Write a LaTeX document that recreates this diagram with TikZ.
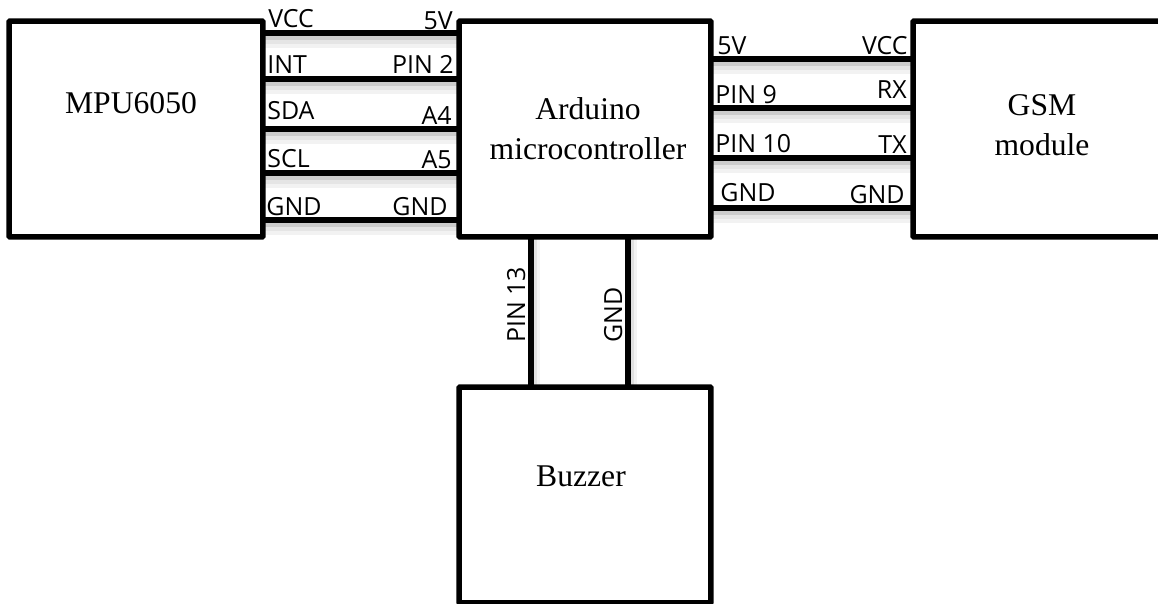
\documentclass[tikz,border=0pt]{standalone}
\usepackage{fontspec}
\setmainfont{Liberation Serif}
\setsansfont{Open Sans}
\usetikzlibrary{positioning}

\begin{document}
\begin{tikzpicture}[
    x=0.02cm, y=-0.02cm,
    block/.style={draw=black, line width=0.11cm, rounded corners=0.5pt, minimum width=5.04cm,
        minimum height=4.32cm, inner sep=0pt, outer sep=0pt},
    blocktext/.style={align=center, inner sep=0pt, font=\fontsize{18}{22.9}\selectfont},
    wire/.style={line width=0.11cm},
    wireshade/.style={
        preaction={draw=black!5, line width=0.24cm, transform canvas={yshift=-0.175cm}},
        preaction={draw=black!10, line width=0.16cm, transform canvas={yshift=-0.135cm}},
        preaction={draw=black!20, line width=0.08cm, transform canvas={yshift=-0.095cm}}},
    wireshadeside/.style={
        preaction={draw=black!5, line width=0.12cm, transform canvas={xshift=0.115cm}},
        preaction={draw=black!12, line width=0.06cm, transform canvas={xshift=0.085cm}}},
    pin/.style={font=\sffamily\fontsize{14.2}{17}\selectfont, inner sep=0pt, text=black, yshift=-0.02cm}
]
\clip (0,0) rectangle (1158,604);

% left side wires
\coordinate (vccl) at (263,33);
\coordinate (vccr) at (459,33);
\coordinate (intl) at (263,79);
\coordinate (intr) at (459,79);
\coordinate (sdal) at (263,129);
\coordinate (sdar) at (459,129);
\coordinate (scll) at (263,173);
\coordinate (sclr) at (459,173);
\coordinate (gndl) at (263,220);
\coordinate (gndr) at (459,220);

% right side wires
\coordinate (fivel) at (711,59);
\coordinate (fiver) at (913,59);
\coordinate (ninel) at (711,108);
\coordinate (niner) at (913,108);
\coordinate (tenl) at (711,158);
\coordinate (tenr) at (913,158);
\coordinate (gsmgl) at (711,208);
\coordinate (gsmgr) at (913,208);

% buzzer wires
\coordinate (pinup) at (531,237);
\coordinate (pindown) at (531,387);
\coordinate (gndup) at (628,237);
\coordinate (gnddown) at (628,387);

\path[wireshade] (vccl) -- (vccr);
\path[wireshade] (intl) -- (intr);
\path[wireshade] (sdal) -- (sdar);
\path[wireshade] (scll) -- (sclr);
\path[wireshade] (gndl) -- (gndr);
\path[wireshade] (fivel) -- (fiver);
\path[wireshade] (ninel) -- (niner);
\path[wireshade] (tenl) -- (tenr);
\path[wireshade] (gsmgl) -- (gsmgr);
\path[wireshadeside] (pinup) -- (pindown);
\path[wireshadeside] (gndup) -- (gnddown);

\node[block, minimum width=5.08cm] (mpu) at (136,129) {};
\node[block] (arduino) at (585,129) {};
\node[block] (gsm) at (1039,129) {};
\node[block] (buzzer) at (585,495) {};

\node[blocktext, anchor=base] (mputext) at (131,114) {MPU6050};
\node[blocktext] (arduinotext) at (588,129) {Arduino\\microcontroller};
\node[blocktext] (gsmtext) at (1042,125) {GSM\\module};
\node[blocktext, anchor=base] (buzzertext) at (581,486) {Buzzer};

\draw[wire] (vccl) -- (vccr);
\draw[wire] (intl) -- (intr);
\draw[wire] (sdal) -- (sdar);
\draw[wire] (scll) -- (sclr);
\draw[wire] (gndl) -- (gndr);
\draw[wire] (fivel) -- (fiver);
\draw[wire] (ninel) -- (niner);
\draw[wire] (tenl) -- (tenr);
\draw[wire] (gsmgl) -- (gsmgr);
\draw[wire] (pinup) -- (pindown);
\draw[wire] (gndup) -- (gnddown);

\node[pin, anchor=base west] (lvcc) at (268,27) {VCC};
\node[pin, anchor=base east] (l5v) at (453,29) {5V};
\node[pin, anchor=base west] (lint) at (267,73) {INT};
\node[pin, anchor=base east] (lpin2) at (454,73) {PIN 2};
\node[pin, anchor=base west] (lsda) at (267,119) {SDA};
\node[pin, anchor=base east] (la4) at (452,124) {A4};
\node[pin, anchor=base west] (lscl) at (267,167) {SCL};
\node[pin, anchor=base east] (la5) at (452,168) {A5};
\node[pin, anchor=base west] (lgnd) at (266,215) {GND};
\node[pin, anchor=base east] (rgnd) at (448,215) {GND};

\node[pin, anchor=base west] (r5v) at (717,54) {5V};
\node[pin, anchor=base east] (rvcc) at (908,54) {VCC};
\node[pin, anchor=base west] (rpin9) at (715,103) {PIN 9};
\node[pin, anchor=base east] (rrx) at (907,98) {RX};
\node[pin, anchor=base west] (rpin10) at (715,152) {PIN 10};
\node[pin, anchor=base east] (rtx) at (907,153) {TX};
\node[pin, anchor=base west] (rgndl) at (720,201) {GND};
\node[pin, anchor=base east] (rgndr) at (905,203) {GND};

\node[pin, rotate=90, anchor=base west, yshift=0.02cm] (vpin13) at (526,342) {PIN 13};
\node[pin, rotate=90, anchor=base west, yshift=0.02cm] (vgnd) at (623,342) {GND};
\end{tikzpicture}
\end{document}
